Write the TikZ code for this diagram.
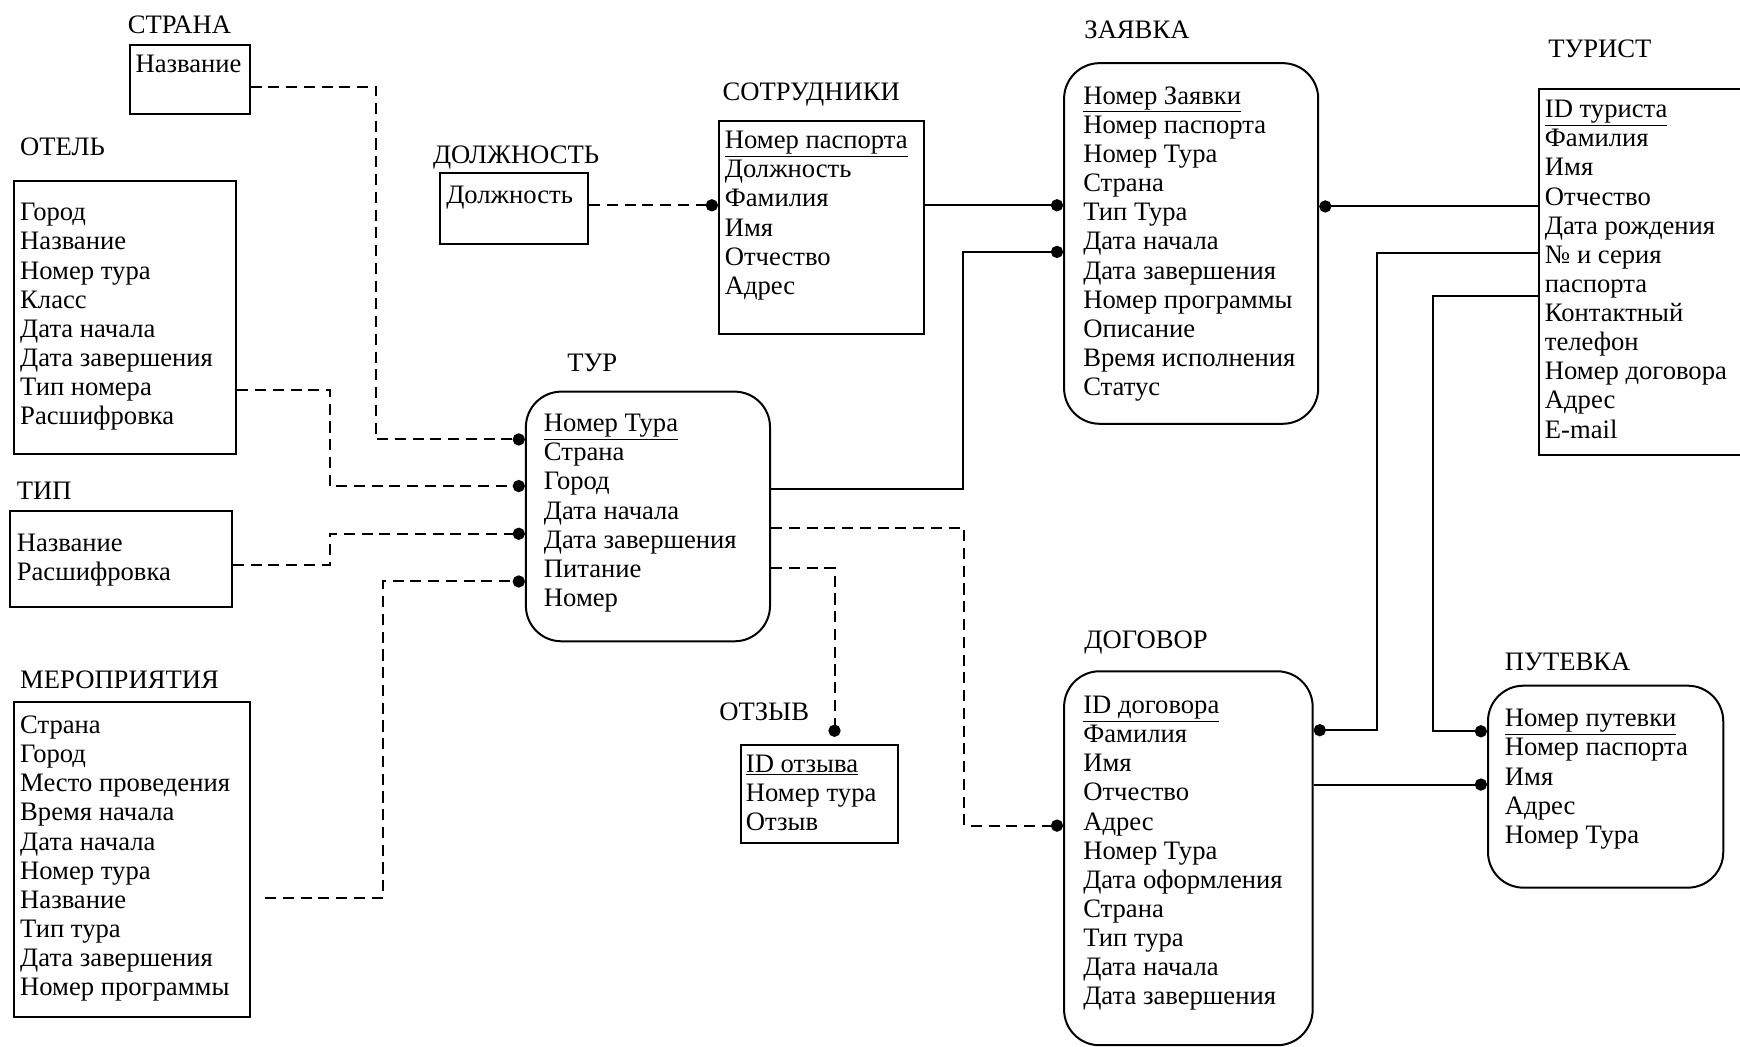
\documentclass[tikz,border=0pt]{standalone}
\usepackage{fontspec}
\setmainfont{Liberation Serif}
\usetikzlibrary{arrows.meta,calc}
\newcommand{\ermrows}[1]{\begin{tabular}[t]{@{}l@{}}#1\end{tabular}}
\begin{document}
\begin{tikzpicture}[x=1pt,y=-1pt,
  ent/.style={draw, line width=1.8pt, anchor=north west, inner sep=0pt},
  rnd/.style={ent, rounded corners=32pt},
  ttl/.style={anchor=base west, inner sep=0pt, font=\fontsize{24}{26.25}\selectfont},
  attr/.style={anchor=base west, inner sep=0pt, font=\fontsize{24}{26.25}\selectfont},
  conn/.style={line width=1.8pt, -{Circle[length=11pt,width=11pt]}},
  dconn/.style={conn, dash pattern=on 10pt off 6pt}
]
\useasboundingbox (0,0) rectangle (1568,943);

% ---- boxes
\node[ent, minimum width=108pt, minimum height=62pt] (strana) at (116,40) {};
\node[ent, minimum width=200pt, minimum height=246pt] (otel) at (12,162) {};
\node[ent, minimum width=200pt, minimum height=86pt] (tip) at (8,460) {};
\node[ent, minimum width=212pt, minimum height=284pt] (merop) at (12,632) {};
\node[ent, minimum width=133pt, minimum height=64pt] (dolzh) at (396,155) {};
\node[ent, minimum width=185pt, minimum height=192pt] (sotr) at (647,108) {};
\node[rnd, minimum width=220pt, minimum height=225pt] (tur) at (473,352) {};
\node[rnd, minimum width=229pt, minimum height=325pt] (zayavka) at (958,56) {};
\node[ent, minimum width=200pt, minimum height=330pt] (turist) at (1386,79) {};
\node[rnd, minimum width=224pt, minimum height=337pt] (dogovor) at (958,604) {};
\node[rnd, minimum width=212pt, minimum height=182pt] (putevka) at (1340,617) {};
\node[ent, minimum width=141pt, minimum height=89pt] (otzyv) at (667,670) {};

% ---- titles
\node[ttl] (strana-h) at (115,30) {СТРАНА};
\node[ttl] (otel-h) at (18,140) {ОТЕЛЬ};
\node[ttl] (tip-h) at (15,450) {ТИП};
\node[ttl] (merop-h) at (18,620) {МЕРОПРИЯТИЯ};
\node[ttl] (dolzh-h) at (390,147) {ДОЛЖНОСТЬ};
\node[ttl] (sotr-h) at (651,91) {СОТРУДНИКИ};
\node[ttl] (tur-h) at (511,335) {ТУР};
\node[ttl] (zayavka-h) at (977,35) {ЗАЯВКА};
\node[ttl] (turist-h) at (1395,52) {ТУРИСТ};
\node[ttl] (dogovor-h) at (977,584) {ДОГОВОР};
\node[ttl] (putevka-h) at (1356,604) {ПУТЕВКА};
\node[ttl] (otzyv-h) at (648,649) {ОТЗЫВ};

% ---- attributes
\node[attr] (strana-t) at (122,65) {\ermrows{Название}};
\node[attr] (otel-t) at (18,199) {\ermrows{Город\\Название\\Номер тура\\Класс\\Дата начала\\Дата завершения\\Тип номера\\Расшифровка}};
\node[attr] (tip-t) at (15,497) {\ermrows{Название\\Расшифровка}};
\node[attr] (merop-t) at (18,661) {\ermrows{Страна\\Город\\Место проведения\\Время начала\\Дата начала\\Номер тура\\Название\\Тип тура\\Дата завершения\\Номер программы}};
\node[attr] (dolzh-t) at (402,183) {\ermrows{Должность}};
\node[attr] (sotr-t) at (653,134) {\ermrows{\underline{Номер паспорта}\\Должность\\Фамилия\\Имя\\Отчество\\Адрес}};
\node[attr] (tur-t) at (490,389) {\ermrows{\underline{Номер Тура}\\Страна\\Город\\Дата начала\\Дата завершения\\Питание\\Номер}};
\node[attr] (zayavka-t) at (976,94) {\ermrows{\underline{Номер Заявки}\\Номер паспорта\\Номер Тура\\Страна\\Тип Тура\\Дата начала\\Дата завершения\\Номер программы\\Описание\\Время исполнения\\Статус}};
\node[attr] (turist-t) at (1392,106) {\ermrows{\underline{ID туриста}\\Фамилия\\Имя\\Отчество\\Дата рождения\\№ и серия\\паспорта\\Контактный\\телефон\\Номер договора\\Адрес\\E-mail}};
\node[attr] (dogovor-t) at (976,643) {\ermrows{\underline{ID договора}\\Фамилия\\Имя\\Отчество\\Адрес\\Номер Тура\\Дата оформления\\Страна\\Тип тура\\Дата начала\\Дата завершения}};
\node[attr] (putevka-t) at (1356,655) {\ermrows{\underline{Номер путевки}\\Номер паспорта\\Имя\\Адрес\\Номер Тура}};
\node[attr] (otzyv-t) at (672,696) {\ermrows{\underline{ID отзыва}\\Номер тура\\Отзыв}};

% ---- connectors
\draw[dconn] ($(strana.north east)+(0,38)$) -| (339,396) -- ($(tur.north west)+(0,44)$);
\draw[dconn] ($(otel.north east)+(0,189)$) -| (297,438) -- ($(tur.north west)+(0,86)$);
\draw[dconn] ($(tip.north east)+(0,49)$) -| (297,481) -- ($(tur.north west)+(0,129)$);
\draw[dconn] ($(merop.north east)+(13,177)$) -| (345,524) -- ($(tur.north west)+(0,172)$);
\draw[dconn] ($(dolzh.north east)+(0,30)$) -- ($(sotr.north west)+(0,77)$);
\draw[conn] ($(sotr.north east)+(0,77)$) -- ($(zayavka.north west)+(0,129)$);
\draw[conn] ($(tur.north east)+(0,89)$) -| (868,227) -- ($(zayavka.north west)+(0,171)$);
\draw[conn] ($(turist.north west)+(0,107)$) -- ($(zayavka.north east)+(0,130)$);
\draw[conn] ($(turist.north west)+(0,149)$) -| (1241,658) -- ($(dogovor.north east)+(0,54)$);
\draw[conn] ($(turist.north west)+(0,188)$) -| (1291,659) -- ($(putevka.north west)+(0,42)$);
\draw[conn] ($(dogovor.north east)+(0,103)$) -- ($(putevka.north west)+(0,90)$);
\draw[dconn] ($(tur.north east)+(0,124)$) -| (869,744) -- ($(dogovor.north west)+(0,140)$);
\draw[dconn] ($(tur.north east)+(0,160)$) -| ($(otzyv.north west)+(85,-6)$);
\end{tikzpicture}
\end{document}
